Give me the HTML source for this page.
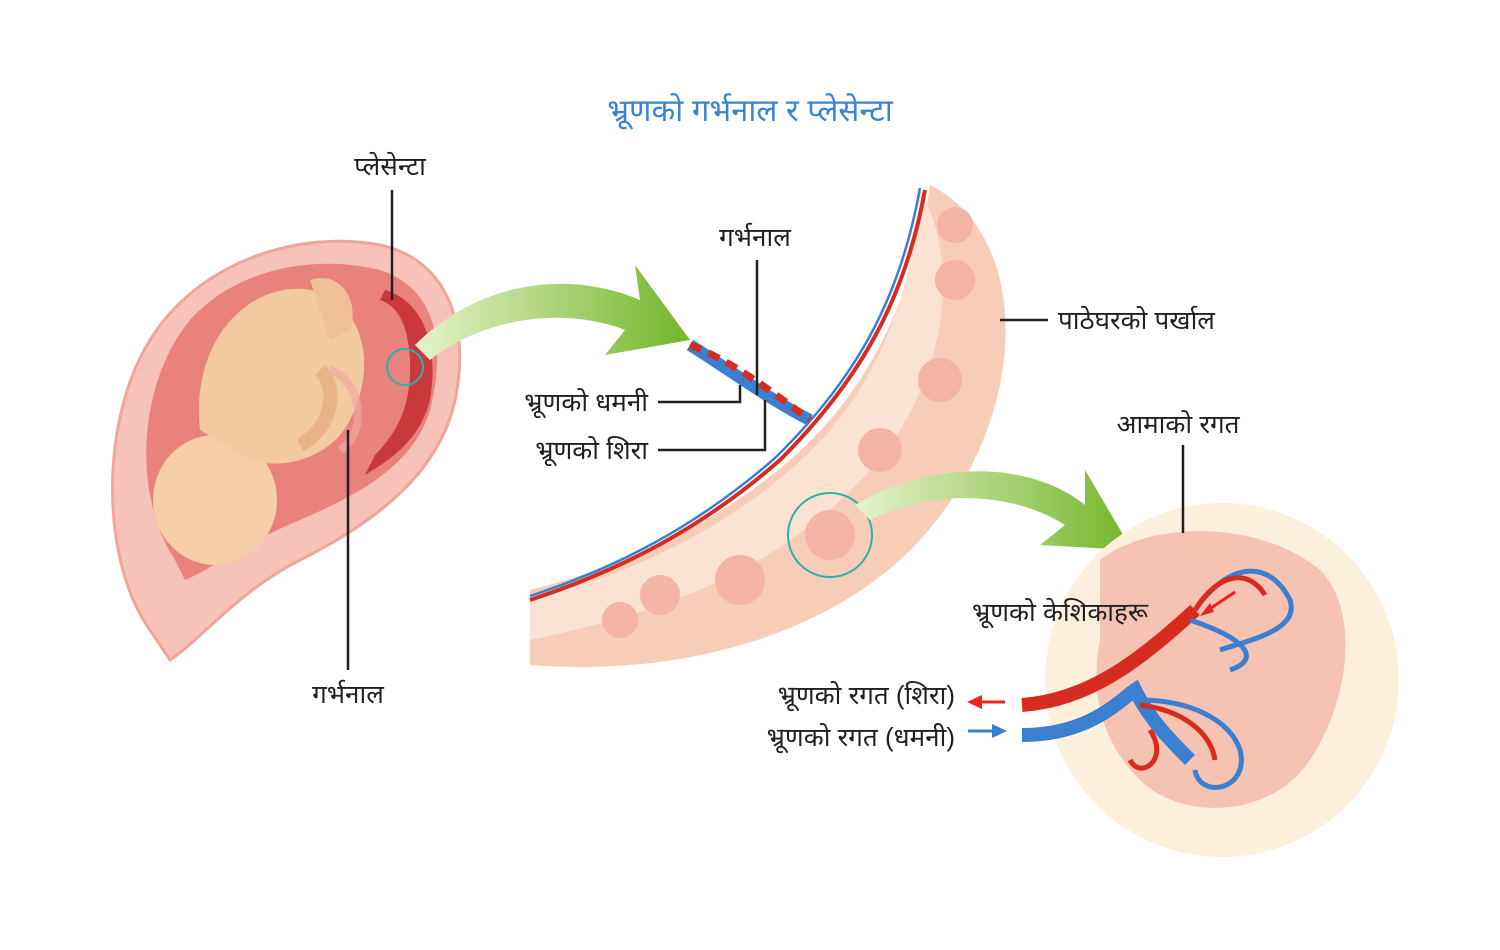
<!DOCTYPE html>
<html><head><meta charset="utf-8"><style>
html,body{margin:0;padding:0;background:#fff;}
svg{display:block;}
text{font-family:"Liberation Sans","Noto Sans Devanagari","Lohit Devanagari",sans-serif;fill:#231f20;font-size:26px;}
</style></head><body>
<svg width="1500" height="950" viewBox="0 0 1500 950" xmlns="http://www.w3.org/2000/svg">
<defs>
<linearGradient id="g1" x1="0" y1="0" x2="1" y2="0"><stop offset="0" stop-color="#e6f2cc"/><stop offset="1" stop-color="#72b62a"/></linearGradient>
</defs>
<text x="750" y="121" text-anchor="middle" style="fill:#3b82d6;font-size:31px">भ्रूणको गर्भनाल र प्लेसेन्टा</text>

<!-- left uterus -->
<path d="M150,630 C100,560 100,420 150,340 C200,260 300,230 380,245 C450,260 470,330 455,400 C440,470 380,520 300,560 C240,590 200,640 170,660 Z" fill="#f7c3b8" stroke="#f0a59a" stroke-width="3"/>
<path d="M175,560 C130,490 140,380 190,320 C240,265 320,255 380,270 C440,290 445,350 430,410 C415,460 370,490 300,520 C250,540 210,570 185,580 Z" fill="#e9827a"/>
<path d="M385,290 C420,300 440,340 430,400 C420,440 390,460 365,475 L375,455 C400,430 412,400 410,360 C408,320 395,305 380,300 Z" fill="#c1272d" opacity="0.8"/>
<ellipse cx="405" cy="367" rx="18" ry="18" fill="none" stroke="#26b5a5" stroke-width="2"/>
<ellipse cx="215" cy="500" rx="62" ry="65" fill="#f6cfa8"/>
<path d="M200,430 C190,340 250,280 310,290 C360,300 380,360 350,420 C330,460 280,470 250,460 Z" fill="#f3c9a0"/>
<path d="M310,280 C340,270 360,300 350,330 L330,340 Z" fill="#efc098"/>
<path d="M320,370 C340,390 330,430 300,445" stroke="#e7b48a" stroke-width="14" fill="none"/>
<path d="M330,370 C360,380 370,430 340,450" stroke="#f0a8a0" stroke-width="8" fill="none" opacity="0.7"/>
<line x1="392" y1="190" x2="392" y2="300" stroke="#231f20" stroke-width="2.5"/>
<line x1="348" y1="430" x2="348" y2="670" stroke="#231f20" stroke-width="2.5"/>
<text x="390" y="175" text-anchor="middle">प्लेसेन्टा</text>
<text x="348" y="703" text-anchor="middle">गर्भनाल</text>

<!-- green arrow 1 -->
<path d="M415,345 C480,280 570,270 640,300 L635,265 L690,340 L605,355 L625,330 C560,305 480,320 430,360 Z" fill="url(#g1)"/>

<!-- middle wall -->
<path d="M930,185 C1040,240 1030,440 900,560 C800,650 650,675 530,665 L530,590 C650,560 760,500 830,420 C890,350 920,260 930,185 Z" fill="#f8cdb8"/>
<path d="M920,190 C960,260 950,380 870,470 C790,560 680,610 530,640 L530,600 C650,570 760,510 830,430 C890,360 915,270 920,190 Z" fill="#fbe2d3"/>
<path d="M925,190 C905,300 860,380 780,460 C700,530 620,570 530,600" stroke="#d62b1f" stroke-width="4" fill="none"/>
<path d="M920,188 C900,300 855,380 775,458 C695,528 615,568 530,596" stroke="#3b7fd0" stroke-width="2.5" fill="none"/>
<g fill="#f3b4a4">
<circle cx="955" cy="225" r="18"/><circle cx="955" cy="280" r="20"/><circle cx="940" cy="380" r="22"/>
<circle cx="880" cy="450" r="22"/><circle cx="830" cy="535" r="25"/><circle cx="740" cy="580" r="25"/>
<circle cx="660" cy="595" r="20"/><circle cx="620" cy="620" r="18"/>
</g>
<circle cx="830" cy="535" r="42" fill="none" stroke="#26b5a5" stroke-width="2"/>
<path d="M690,345 C730,370 770,400 810,420" stroke="#3b7fd0" stroke-width="12" fill="none"/>
<path d="M690,345 C730,360 770,390 810,420" stroke="#d62b1f" stroke-width="7" fill="none" stroke-dasharray="12 8"/>
<line x1="757" y1="260" x2="757" y2="395" stroke="#231f20" stroke-width="2.5"/>
<polyline points="658,402 740,402 740,385" fill="none" stroke="#231f20" stroke-width="2.5"/>
<polyline points="658,450 765,450 765,400" fill="none" stroke="#231f20" stroke-width="2.5"/>
<line x1="1000" y1="320" x2="1048" y2="320" stroke="#231f20" stroke-width="2.5"/>
<text x="755" y="246" text-anchor="middle">गर्भनाल</text>
<text x="648" y="411" text-anchor="end">भ्रूणको धमनी</text>
<text x="648" y="459" text-anchor="end">भ्रूणको शिरा</text>
<text x="1058" y="329">पाठेघरको पर्खाल</text>

<!-- green arrow 2 -->
<path d="M855,505 C930,460 1030,460 1085,505 L1085,470 L1132,550 L1040,545 L1065,525 C1010,490 930,490 870,520 Z" fill="url(#g1)"/>

<!-- right circle -->
<circle cx="1222" cy="680" r="177" fill="#fcefdc"/>
<path d="M1100,560 C1150,520 1260,520 1320,570 C1360,610 1350,700 1310,760 C1270,820 1180,820 1140,780 C1100,740 1090,690 1100,640 Z" fill="#f6c2b2"/>
<path d="M1022,705 C1090,700 1140,660 1195,610" stroke="#d62b1f" stroke-width="14" fill="none"/>
<path d="M1022,735 C1090,735 1120,700 1135,690 C1150,720 1170,740 1190,760" stroke="#3b7fd0" stroke-width="14" fill="none"/>
<g fill="none" stroke-width="5">
<path d="M1195,610 C1230,560 1270,560 1290,600 C1300,630 1250,640 1220,650" stroke="#3b7fd0"/>
<path d="M1195,610 C1220,570 1250,570 1265,595" stroke="#d62b1f"/>
<path d="M1190,620 C1250,640 1260,660 1230,670" stroke="#3b7fd0"/>
<path d="M1140,700 C1190,700 1230,720 1240,750 C1250,790 1200,800 1195,770" stroke="#3b7fd0"/>
<path d="M1140,705 C1180,710 1210,730 1215,760" stroke="#d62b1f"/>
<path d="M1150,730 C1170,760 1140,780 1130,760" stroke="#d62b1f"/>
</g>
<line x1="1183" y1="445" x2="1183" y2="533" stroke="#231f20" stroke-width="2.5"/>
<text x="1178" y="433" text-anchor="middle">आमाको रगत</text>
<text x="1060" y="621" text-anchor="middle">भ्रूणको केशिकाहरू</text>
<path d="M1235,592 L1205,612" stroke="#e8261c" stroke-width="3"/>
<polygon points="1200,616 1210,603 1214,612" fill="#e8261c"/>
<text x="955" y="704" text-anchor="end">भ्रूणको रगत (शिरा)</text>
<text x="955" y="746" text-anchor="end">भ्रूणको रगत (धमनी)</text>
<line x1="980" y1="702" x2="1005" y2="702" stroke="#e8261c" stroke-width="3"/>
<polygon points="967,702 982,695 982,709" fill="#e8261c"/>
<line x1="968" y1="731" x2="994" y2="731" stroke="#3b7fd0" stroke-width="3"/>
<polygon points="1007,731 992,724 992,738" fill="#3b7fd0"/>
</svg>
</body></html>
